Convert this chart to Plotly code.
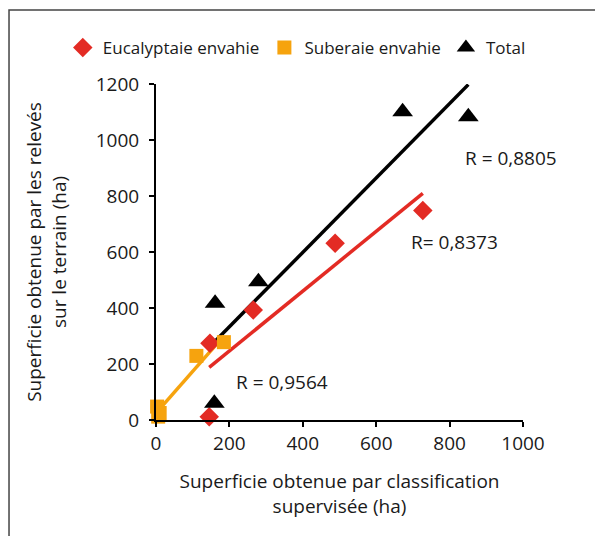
import numpy as np
import plotly.graph_objects as go

# Data
euc_x = [145, 147, 265, 488, 727]
euc_y = [12, 274, 393, 631, 748]
sub_x = [3, 6, 10, 110, 185]
sub_y = [48, 12, 25, 229, 278]
tot_x = [159, 161, 279, 672, 851]
tot_y = [60, 417, 494, 1101, 1083]
r_labels = ["R= 0,8373", "R = 0,9564", "R = 0,8805"]
x_ticks = [0, 200, 400, 600, 800, 1000]
y_ticks = [0, 200, 400, 600, 800, 1000, 1200]

RED = "#E32B24"
ORANGE = "#F6A30E"
BLACK = "#000000"
FONT = "Open Sans"
TXT = "#1a1a1a"
FS = 19
LFS = 17

def trend(x, y):
    a, b = np.polyfit(x, y, 1)
    xs = np.array([min(x), max(x)], dtype=float)
    return xs, a * xs + b

fig = go.Figure()

for xs, ys, col in [(euc_x, euc_y, RED), (tot_x, tot_y, BLACK), (sub_x, sub_y, ORANGE)]:
    tx, ty = trend(xs, ys)
    fig.add_trace(go.Scatter(x=tx, y=ty, mode="lines", line=dict(color=col, width=3.5),
                             showlegend=False, hoverinfo="skip", cliponaxis=False))

fig.add_trace(go.Scatter(x=euc_x, y=euc_y, mode="markers", name="Eucalyptaie envahie",
                         marker=dict(symbol="diamond", size=15, color=RED), cliponaxis=False))
fig.add_trace(go.Scatter(x=sub_x, y=sub_y, mode="markers", name="Suberaie envahie",
                         marker=dict(symbol="square", size=14, color=ORANGE), cliponaxis=False))
fig.add_trace(go.Scatter(x=tot_x, y=tot_y, mode="markers", name="Total",
                         marker=dict(symbol="triangle-up", size=18, color=BLACK), cliponaxis=False))

fig.update_layout(
    width=603, height=536,
    margin=dict(l=148, r=88, t=76, b=124, autoexpand=False),
    plot_bgcolor="white", paper_bgcolor="white",
    font=dict(family=FONT, size=FS, color=TXT),
    showlegend=True,
    legend=dict(orientation="h", x=-0.254, y=1.107, xanchor="left", yanchor="middle",
                font=dict(size=LFS, family=FONT, color=TXT),
                itemwidth=30, tracegroupgap=0, bgcolor="rgba(0,0,0,0)"),
    xaxis=dict(range=[0, 1000], tickvals=x_ticks, showgrid=False, zeroline=False,
               showline=True, linecolor="black", linewidth=2, ticks="outside",
               ticklen=5, tickwidth=2, tickcolor="black", automargin=False,
               tickfont=dict(size=FS, family=FONT, color=TXT),
               title=dict(text="Superficie obtenue par classification<br>supervisée (ha)",
                          font=dict(size=FS, family=FONT, color=TXT), standoff=20)),
    yaxis=dict(range=[0, 1200], tickvals=y_ticks, showgrid=False, zeroline=False,
               showline=True, linecolor="black", linewidth=2, ticks="outside",
               ticklen=5, tickwidth=2, tickcolor="black", automargin=False,
               ticklabelstandoff=6,
               tickfont=dict(size=FS, family=FONT, color=TXT),
               title=dict(text="Superficie obtenue par les relevés<br>sur le terrain (ha)",
                          font=dict(size=FS, family=FONT, color=TXT), standoff=24)),
)

# R labels
for (ax, ay), txt in zip([(0.689, 0.53), (0.2125, 0.113), (0.837, 0.78)], r_labels):
    fig.add_annotation(x=ax, y=ay, xref="paper", yref="paper", text=txt, showarrow=False,
                       xanchor="left", yanchor="middle",
                       font=dict(size=FS, family=FONT, color=TXT))

# Outer frame
fig.add_shape(type="rect", xref="paper", yref="paper", x0=-0.4005, x1=1.4, y0=-0.6, y1=1.22,
              line=dict(color="#444444", width=1.5), fillcolor="rgba(0,0,0,0)", layer="below")

fig.write_html("out.html")
